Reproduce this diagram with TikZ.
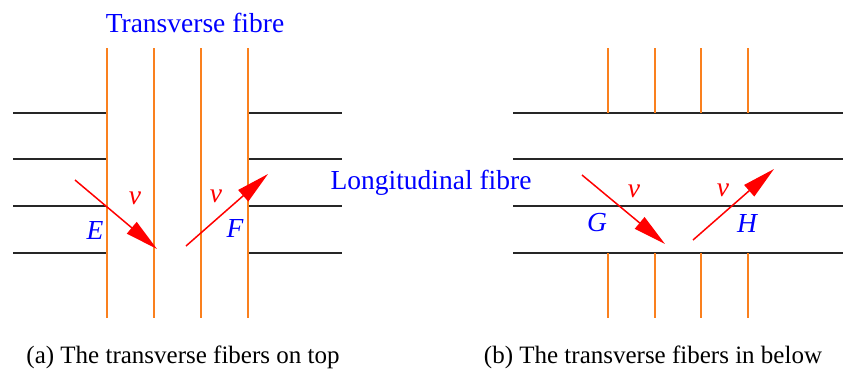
\documentclass[tikz,border=0pt]{standalone}
\usepackage{fontspec}
\setmainfont{Liberation Serif}
\usetikzlibrary{arrows.meta}
\definecolor{fibreorange}{RGB}{250,128,30}

\begin{document}
\begin{tikzpicture}[x=1pt, y=-1pt,
  longfib/.style={line width=1.6pt, black!85},
  transfib/.style={line width=1.5pt, fibreorange},
  vel/.style={-{Triangle[length=33pt, width=15pt]}, red, line width=1.5pt},
  lab/.style={blue, font=\rmfamily\fontsize{27.5}{30}\selectfont, inner sep=0pt},
  ptlab/.style={blue, font=\rmfamily\itshape\fontsize{27.5}{30}\selectfont, inner sep=0pt},
  vlab/.style={red, font=\rmfamily\itshape\fontsize{27.5}{30}\selectfont, inner sep=0pt},
  caption/.style={font=\rmfamily\fontsize{25}{28}\selectfont, inner sep=0pt}
]
\useasboundingbox (0,0) rectangle (845,375);

% (a) transverse fibres on top
\foreach \y in {113,159,206,253} {
  \draw[longfib] (13,\y) -- (107,\y);
  \draw[longfib] (248,\y) -- (342,\y);
}
\foreach \x in {107,154,201,248}
  \draw[transfib] (\x,48) -- (\x,318);

% (b) transverse fibres below
\foreach \y in {113,159,206,253}
  \draw[longfib] (513,\y) -- (843,\y);
\foreach \x in {608,655,701,748} {
  \draw[transfib] (\x,48) -- (\x,113);
  \draw[transfib] (\x,253) -- (\x,318);
}

% labels
\node[lab] (trans) at (195,23) {Transverse fibre};
\node[lab] (long) at (431,183) {Longitudinal fibre};

% velocity arrows
\coordinate (e0) at (75,180);   \coordinate (e1) at (157,249);
\coordinate (f0) at (186,246);  \coordinate (f1) at (268,174);
\coordinate (g0) at (582,175);  \coordinate (g1) at (665,244);
\coordinate (h0) at (693,240);  \coordinate (h1) at (774,169);
\draw[vel] (e0) -- (e1);
\draw[vel] (f0) -- (f1);
\draw[vel] (g0) -- (g1);
\draw[vel] (h0) -- (h1);

\node[vlab] (ve) at (135,198) {v};
\node[vlab] (vf) at (216,196) {v};
\node[vlab] (vg) at (634,191) {v};
\node[vlab] (vh) at (723,190) {v};
\node[ptlab] (E) at (95,230) {E};
\node[ptlab] (F) at (235,228) {F};
\node[ptlab] (G) at (597,223) {G};
\node[ptlab] (H) at (747,223) {H};

% captions
\node[caption] (capa) at (183,357) {(a) The transverse fibers on top};
\node[caption] (capb) at (653,357) {(b) The transverse fibers in below};
\end{tikzpicture}
\end{document}
